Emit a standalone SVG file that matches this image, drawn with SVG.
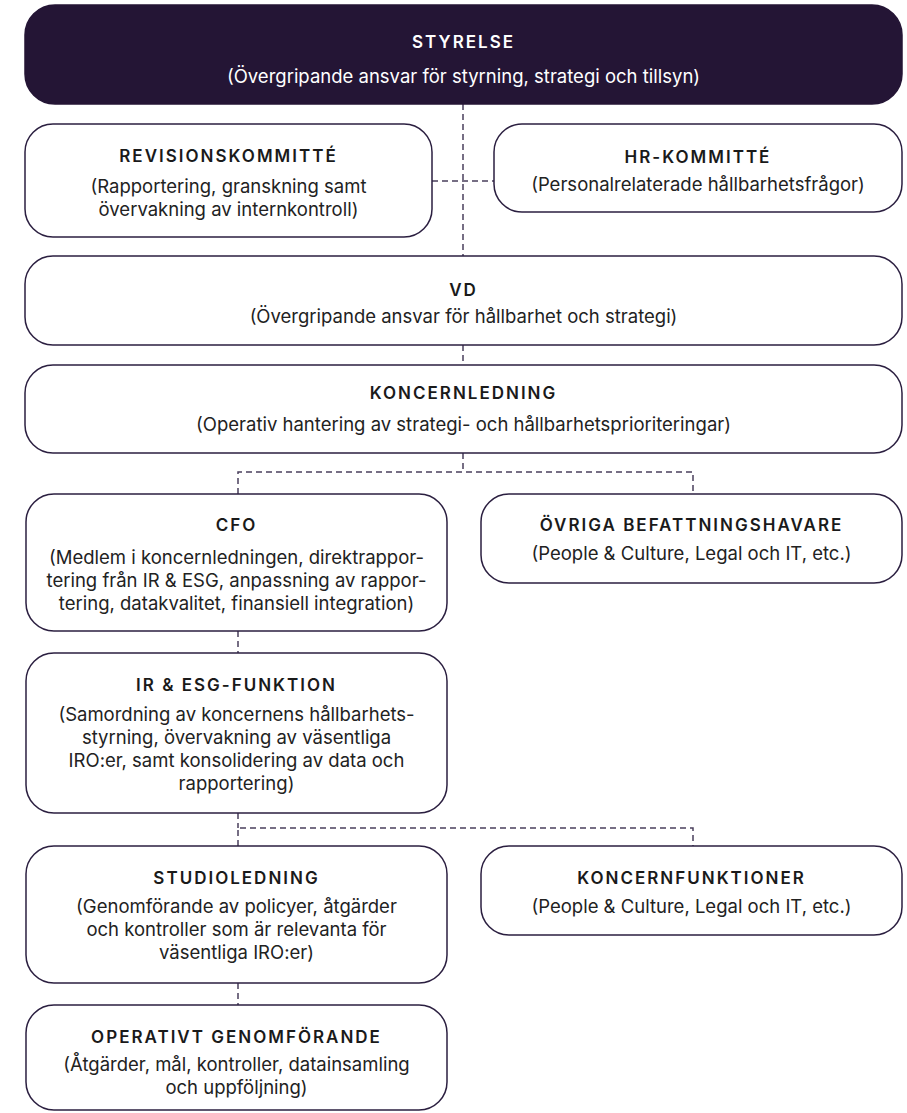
<svg xmlns="http://www.w3.org/2000/svg" width="907" height="1113" viewBox="0 0 907 1113">
<style>
.box{fill:#ffffff;stroke:#2b1f40;stroke-width:1.5}
.dark{fill:#241535;stroke:#241535;stroke-width:1.5}
.t{font-family:Inter,"Liberation Sans",sans-serif;font-size:17px;font-weight:600;letter-spacing:2px;fill:#1a1a1a;text-anchor:middle}
.d{font-family:Inter,"Liberation Sans",sans-serif;font-size:18.5px;font-weight:400;fill:#222222;text-anchor:middle}
.w{fill:#ffffff}
.c{fill:none;stroke:#4a3f5c;stroke-width:1.5;stroke-dasharray:6 4}
</style>
<rect width="907" height="1113" fill="#ffffff"/>
<g id="connectors">
<path class="c" d="M463 104 V256"/>
<path class="c" d="M432 181 H494"/>
<path class="c" d="M463 345 V365"/>
<path class="c" d="M463 453 V472"/>
<path class="c" d="M238 494 V472 H693 V494"/>
<path class="c" d="M238 631 V653"/>
<path class="c" d="M238 813 V828"/>
<path class="c" d="M238 846 V828 H693 V846"/>
<path class="c" d="M238 983 V1005"/>
</g>
<g id="styrelse">
<rect class="dark" x="25" y="5" width="877" height="99" rx="30"/>
<text class="t w" x="463.5" y="48">STYRELSE</text>
<text class="d w" x="463.5" y="83">(Övergripande ansvar för styrning, strategi och tillsyn)</text>
</g>
<g id="revisionskommitte">
<rect class="box" x="25" y="124" width="407" height="113" rx="28"/>
<text class="t" x="228.5" y="162">REVISIONSKOMMITTÉ</text>
<text class="d" x="228.5" y="193">(Rapportering, granskning samt</text>
<text class="d" x="228.5" y="216">övervakning av internkontroll)</text>
</g>
<g id="hr-kommitte">
<rect class="box" x="494" y="124" width="408" height="88" rx="28"/>
<text class="t" x="698" y="163">HR-KOMMITTÉ</text>
<text class="d" x="698" y="191">(Personalrelaterade hållbarhetsfrågor)</text>
</g>
<g id="vd">
<rect class="box" x="25" y="256" width="877" height="89" rx="28"/>
<text class="t" x="463.5" y="296">VD</text>
<text class="d" x="463.5" y="323">(Övergripande ansvar för hållbarhet och strategi)</text>
</g>
<g id="koncernledning">
<rect class="box" x="25" y="365" width="877" height="88" rx="28"/>
<text class="t" x="463.5" y="399">KONCERNLEDNING</text>
<text class="d" x="463.5" y="431">(Operativ hantering av strategi- och hållbarhetsprioriteringar)</text>
</g>
<g id="cfo">
<rect class="box" x="26" y="494" width="421" height="137" rx="28"/>
<text class="t" x="236.5" y="531">CFO</text>
<text class="d" x="236.5" y="564">(Medlem i koncernledningen, direktrappor-</text>
<text class="d" x="236.5" y="587">tering från IR &amp; ESG, anpassning av rappor-</text>
<text class="d" x="236.5" y="610">tering, datakvalitet, finansiell integration)</text>
</g>
<g id="ovriga">
<rect class="box" x="481" y="494" width="421" height="89" rx="28"/>
<text class="t" x="691.5" y="531">ÖVRIGA BEFATTNINGSHAVARE</text>
<text class="d" x="691.5" y="560">(People &amp; Culture, Legal och IT, etc.)</text>
</g>
<g id="ir-esg">
<rect class="box" x="26" y="653" width="421" height="160" rx="28"/>
<text class="t" x="236.5" y="691">IR &amp; ESG-FUNKTION</text>
<text class="d" x="236.5" y="721">(Samordning av koncernens hållbarhets-</text>
<text class="d" x="236.5" y="744">styrning, övervakning av väsentliga</text>
<text class="d" x="236.5" y="767">IRO:er, samt konsolidering av data och</text>
<text class="d" x="236.5" y="790">rapportering)</text>
</g>
<g id="studioledning">
<rect class="box" x="26" y="846" width="421" height="137" rx="28"/>
<text class="t" x="236.5" y="884">STUDIOLEDNING</text>
<text class="d" x="236.5" y="913">(Genomförande av policyer, åtgärder</text>
<text class="d" x="236.5" y="936">och kontroller som är relevanta för</text>
<text class="d" x="236.5" y="959">väsentliga IRO:er)</text>
</g>
<g id="koncernfunktioner">
<rect class="box" x="481" y="846" width="421" height="89" rx="28"/>
<text class="t" x="691.5" y="884">KONCERNFUNKTIONER</text>
<text class="d" x="691.5" y="913">(People &amp; Culture, Legal och IT, etc.)</text>
</g>
<g id="operativt">
<rect class="box" x="26" y="1005" width="421" height="105" rx="28"/>
<text class="t" x="236.5" y="1043">OPERATIVT GENOMFÖRANDE</text>
<text class="d" x="236.5" y="1071">(Åtgärder, mål, kontroller, datainsamling</text>
<text class="d" x="236.5" y="1094">och uppföljning)</text>
</g>
</svg>
